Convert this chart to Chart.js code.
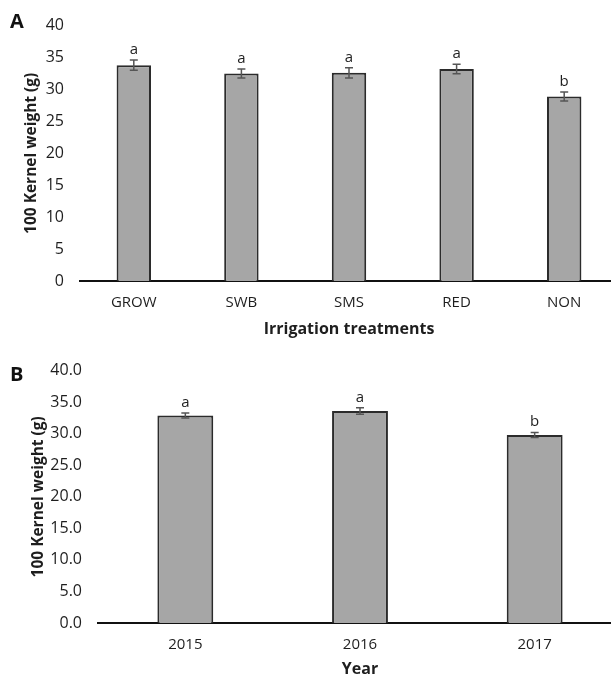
<!DOCTYPE html>
<html>
<head>
<meta charset="utf-8">
<script src="https://cdn.jsdelivr.net/npm/chart.js@4.4.1/dist/chart.umd.min.js"></script>
<style>
  html, body { margin: 0; padding: 0; background: #fff; overflow: hidden; }
  #wrap { position: relative; width: 611px; height: 681px; overflow: hidden; }
  .panel { position: absolute; left: 0; }
  .tag { position: absolute; left: 10px; font: bold 20px "Open Sans", sans-serif; line-height: 20px; color: #111; }
</style>
</head>
<body>
<div id="wrap">
  <canvas id="chartA" class="panel" style="top:0"></canvas>
  <canvas id="chartB" class="panel" style="top:345px"></canvas>
  <div class="tag" style="top:11px">A</div>
  <div class="tag" style="top:364px">B</div>
</div>
<script>
// panel A - irrigation treatments
const treatments   = ['GROW', 'SWB', 'SMS', 'RED', 'NON'];
const treatWeight  = [33.8, 32.5, 32.6, 33.2, 28.9];
const treatErr     = [0.8, 0.7, 0.8, 0.75, 0.7];
const treatLetters = ['a', 'a', 'a', 'a', 'b'];

// panel B - years
const years       = ['2015', '2016', '2017'];
const yearWeight  = [32.9, 33.6, 29.8];
const yearErr     = [0.4, 0.5, 0.4];
const yearLetters = ['a', 'a', 'b'];

Chart.defaults.font.family = '"Open Sans", sans-serif';
Chart.defaults.color = '#1e1e1e';

// error bars + significance letters, drawn from the chart scales
const errPlugin = {
  id: 'errLetters',
  afterDatasetsDraw(chart, args, opts) {
    const { ctx, scales: { x, y } } = chart;
    const vals = chart.data.datasets[0].data;
    ctx.save();
    vals.forEach((v, i) => {
      const px = x.getPixelForValue(i);
      const hi = y.getPixelForValue(v + opts.err[i]);
      const lo = y.getPixelForValue(v - opts.err[i]);
      ctx.strokeStyle = '#555';
      ctx.lineWidth = 1.5;
      ctx.beginPath();
      ctx.moveTo(px, hi); ctx.lineTo(px, lo);
      ctx.moveTo(px - 4, hi); ctx.lineTo(px + 4, hi);
      ctx.moveTo(px - 4, lo); ctx.lineTo(px + 4, lo);
      ctx.stroke();
      ctx.fillStyle = '#1e1e1e';
      ctx.font = '15px "Open Sans", sans-serif';
      ctx.textAlign = 'center';
      ctx.textBaseline = 'bottom';
      ctx.fillText(opts.letters[i], px, hi - 3);
    });
    ctx.restore();
  }
};

function makeChart(id, w, h, labels, values, err, letters, cfg) {
  const cv = document.getElementById(id);
  cv.width = w; cv.height = h;
  cv.style.width = w + 'px'; cv.style.height = h + 'px';
  return new Chart(cv, {
    type: 'bar',
    data: {
      labels,
      datasets: [{
        data: values,
        backgroundColor: '#a6a6a6',
        borderColor: '#2b2b2b',
        borderWidth: 2,
        barPercentage: 0.32,
        categoryPercentage: 1
      }]
    },
    plugins: [errPlugin],
    options: {
      responsive: false,
      animation: false,
      layout: { padding: { top: cfg.top, left: 0, right: 0, bottom: 0 } },
      plugins: {
        legend: { display: false },
        tooltip: { enabled: false },
        errLetters: { err, letters }
      },
      scales: {
        x: {
          grid: { display: false, drawTicks: false },
          border: { display: true, color: '#111', width: 2 },
          ticks: { padding: 13, font: { size: 15 }, color: '#1e1e1e' },
          title: { display: true, text: cfg.xTitle, font: { size: 16, weight: 'bold' }, color: '#1e1e1e', padding: { top: 0, bottom: cfg.titlePad } },
          afterFit: (s) => { s.height = cfg.xH; }
        },
        y: {
          min: 0, max: 40,
          grid: { display: false, drawTicks: false },
          border: { display: false },
          ticks: { stepSize: 5, padding: 16, font: { size: 16 }, color: '#1e1e1e', callback: cfg.tickFmt },
          title: { display: true, text: '100 Kernel weight (g)', font: { size: 15.5, weight: 'bold' }, color: '#1e1e1e', padding: { top: cfg.yTitlePad, bottom: 0 } },
          afterFit: (s) => { s.width = cfg.yW; }
        }
      }
    }
  });
}

makeChart('chartA', 618, 345, treatments, treatWeight, treatErr, treatLetters, {
  top: 23, xH: 64, yW: 80, xTitle: 'Irrigation treatments', titlePad: 6, yTitlePad: 22,
  tickFmt: (v) => v
});

makeChart('chartB', 622, 336, years, yearWeight, yearErr, yearLetters, {
  top: 20, xH: 58, yW: 98, xTitle: 'Year', titlePad: 2, yTitlePad: 29,
  tickFmt: (v) => Number(v).toFixed(1)
});
</script>
</body>
</html>
